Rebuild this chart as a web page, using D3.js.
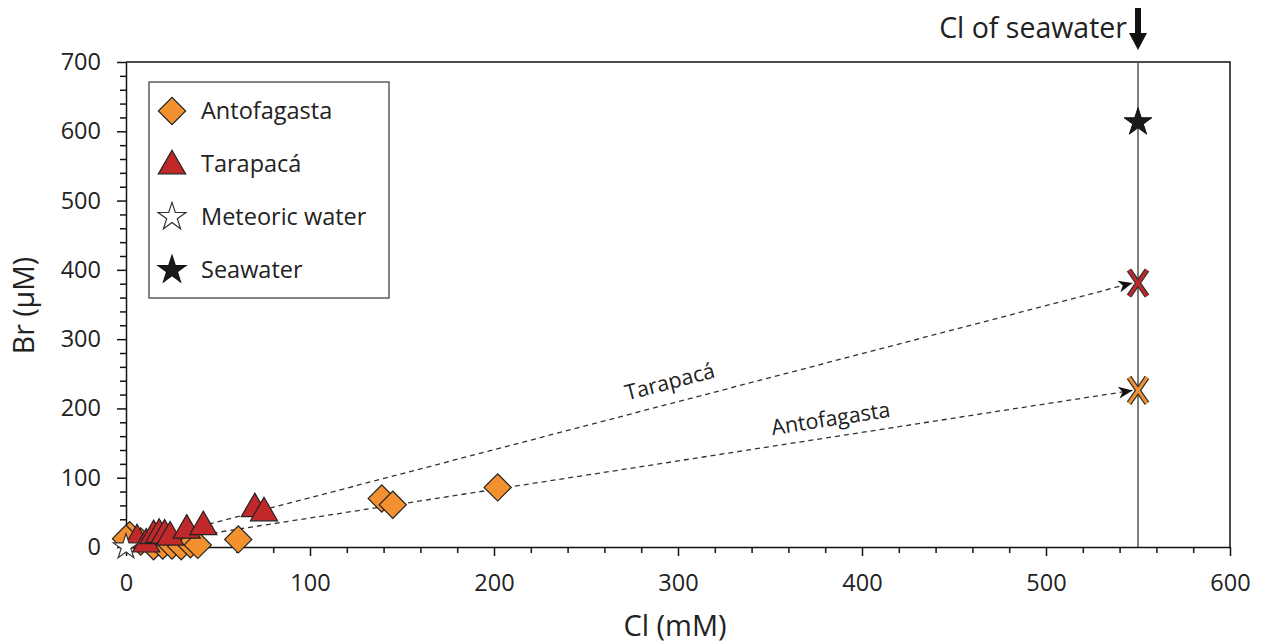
<!DOCTYPE html>
<html>
<head>
<meta charset="utf-8">
<script src="https://cdn.jsdelivr.net/npm/d3@7"></script>
<style>
  body { margin: 0; background: #fff; }
  svg { font-family: "Open Sans", sans-serif; }
</style>
</head>
<body>
<div id="chart"></div>
<script>
// data: [Cl (mM), Br (µM)]
const antofagasta = [
  [2, 17], [0, 12], [8, 8], [15, 1], [20, 2], [25, 2], [30, 1], [35, 4],
  [39, 3], [61, 11], [139, 70], [145, 61], [202, 86]
];
const tarapaca = [
  [6, 13], [11, 7], [15, 19], [18, 21], [21, 20], [24, 17], [33, 27],
  [42, 32], [70, 58], [75, 52]
];
const meteoric = [[0, 0]];
const seawater = [[550, 613]];
const seawaterCl = 550;
// dashed mixing lines ending at the projected seawater-Cl values
const tarapacaLine = [[45, 33], [547, 381]];
const antofagastaLine = [[47, 20], [547, 226]];
const projected = [
  { name: "Tarapacá", br: 381 },
  { name: "Antofagasta", br: 226 }
];
const xTicks = [0, 100, 200, 300, 400, 500, 600];
const yTicks = [0, 100, 200, 300, 400, 500, 600, 700];
const legendItems = ["Antofagasta", "Tarapacá", "Meteoric water", "Seawater"];

const W = 1265, H = 644;
const margin = { top: 62, right: 35, bottom: 97, left: 126 };
const width = W - margin.left - margin.right;
const height = H - margin.top - margin.bottom;

const orange = "#f39130";
const red = "#c0282a";
const edge = "#222";

const svg = d3.select("#chart").append("svg")
  .attr("width", W).attr("height", H);

const g = svg.append("g")
  .attr("transform", `translate(${margin.left},${margin.top})`);

const x = d3.scaleLinear().domain([0, 600]).range([0, width]);
const y = d3.scaleLinear().domain([0, 700]).range([height, 0]);

// minor ticks every 20
const minorX = d3.range(0, 601, 20).filter(d => d % 100 !== 0);
const minorY = d3.range(0, 701, 20).filter(d => d % 100 !== 0);

// frame (top + right)
g.append("path")
  .attr("d", `M0,0H${width}V${height}`)
  .attr("fill", "none").attr("stroke", "#111").attr("stroke-width", 1.5);

// seawater Cl line
g.append("line")
  .attr("x1", x(seawaterCl)).attr("x2", x(seawaterCl))
  .attr("y1", 0).attr("y2", height)
  .attr("stroke", "#555").attr("stroke-width", 1.5);

// axes
g.append("g").attr("transform", `translate(0,${height})`)
  .call(d3.axisBottom(x).tickValues(xTicks).tickSize(9).tickPadding(18).tickSizeOuter(0));
g.append("g").attr("transform", `translate(0,${height})`)
  .call(d3.axisBottom(x).tickValues(minorX).tickSize(6).tickFormat(""))
  .call(a => a.select(".domain").remove());
g.append("g")
  .call(d3.axisLeft(y).tickValues(yTicks).tickSize(9).tickPadding(16).tickSizeOuter(0));
g.append("g")
  .call(d3.axisLeft(y).tickValues(minorY).tickSize(6).tickFormat(""))
  .call(a => a.select(".domain").remove());

g.selectAll(".domain, .tick line").attr("stroke", "#111").attr("stroke-width", 1.5);
g.selectAll(".tick text").attr("font-size", 23.5).attr("fill", "#222")
  .attr("font-family", "'Open Sans', sans-serif");

// axis titles
svg.append("text")
  .attr("x", margin.left + width / 2 - 3).attr("y", 636)
  .attr("text-anchor", "middle").attr("font-size", 29).attr("fill", "#222")
  .text("Cl (mM)");
svg.append("text")
  .attr("transform", `translate(34,${margin.top + y(350) + 1}) rotate(-90)`)
  .attr("text-anchor", "middle").attr("font-size", 28.5).attr("fill", "#222")
  .text("Br (µM)");

// arrowhead marker
svg.append("defs").append("marker")
  .attr("id", "arrow").attr("viewBox", "-14 -7 16 14")
  .attr("markerWidth", 16).attr("markerHeight", 14)
  .attr("refX", 0).attr("refY", 0)
  .attr("markerUnits", "userSpaceOnUse")
  .attr("orient", "auto")
  .append("path").attr("d", "M0,0L-14,-6L-10,0L-14,6Z").attr("fill", "#111");

const line = d3.line().x(d => x(d[0])).y(d => y(d[1]));
[tarapacaLine, antofagastaLine].forEach(l => {
  g.append("path").attr("d", line(l))
    .attr("fill", "none").attr("stroke", "#333").attr("stroke-width", 1.3)
    .attr("stroke-dasharray", "5,4").attr("marker-end", "url(#arrow)");
});

// line labels, rotated along their lines
function lineLabel(l, t, text, off) {
  const x0 = x(l[0][0]), y0 = y(l[0][1]), x1 = x(l[1][0]), y1 = y(l[1][1]);
  const ang = Math.atan2(y1 - y0, x1 - x0) * 180 / Math.PI;
  const px = x0 + (x1 - x0) * t, py = y0 + (y1 - y0) * t;
  g.append("text")
    .attr("transform", `translate(${px},${py}) rotate(${ang}) translate(0,${off})`)
    .attr("text-anchor", "middle").attr("font-size", 21.5).attr("fill", "#222")
    .text(text);
}
lineLabel(tarapacaLine, 0.505, "Tarapacá", -14);
lineLabel(antofagastaLine, 0.675, "Antofagasta", -11);

// symbols
const diamond = d3.symbol().type(d3.symbolSquare).size(370);
const triangle = d3.symbol().type(d3.symbolTriangle).size(320);
const starBig = d3.symbol().type(d3.symbolStar).size(240);
const starSmall = d3.symbol().type(d3.symbolStar).size(200);

g.append("g").selectAll("path").data(antofagasta).join("path")
  .attr("d", diamond)
  .attr("transform", d => `translate(${x(d[0])},${y(d[1])}) rotate(45)`)
  .attr("fill", orange).attr("stroke", edge).attr("stroke-width", 1.2);

g.append("g").selectAll("path").data(tarapaca).join("path")
  .attr("d", triangle)
  .attr("transform", d => `translate(${x(d[0])},${y(d[1]) + 2})`)
  .attr("fill", red).attr("stroke", edge).attr("stroke-width", 1.2);

g.append("g").selectAll("path").data(meteoric).join("path")
  .attr("d", starSmall)
  .attr("transform", d => `translate(${x(d[0])},${y(d[1])})`)
  .attr("fill", "#fff").attr("stroke", "#333").attr("stroke-width", 1.2);

g.append("g").selectAll("path").data(seawater).join("path")
  .attr("d", starBig)
  .attr("transform", d => `translate(${x(d[0])},${y(d[1])})`)
  .attr("fill", "#1a1a1a").attr("stroke", "#111").attr("stroke-width", 1);

// projected values as X marks
const xMark = "M-9,-13L9,13M9,-13L-9,13";
const xg = g.append("g").selectAll("g").data(projected).join("g")
  .attr("transform", d => `translate(${x(seawaterCl)},${y(d.br)})`);
xg.append("path").attr("d", xMark).attr("stroke", "#333").attr("stroke-width", 5.5)
  .attr("fill", "none");
xg.append("path").attr("d", xMark)
  .attr("stroke", d => d.name === "Tarapacá" ? red : orange)
  .attr("stroke-width", 3).attr("fill", "none");

// legend
const lg = svg.append("g").attr("transform", "translate(149,82)");
lg.append("rect").attr("width", 240).attr("height", 216)
  .attr("fill", "#fff").attr("stroke", "#444").attr("stroke-width", 1.3);
const legendShapes = [
  { sym: diamond, rot: 45, fill: orange, stroke: edge },
  { sym: triangle, rot: 0, fill: red, stroke: edge },
  { sym: starBig, rot: 0, fill: "#fff", stroke: "#333" },
  { sym: starBig, rot: 0, fill: "#1a1a1a", stroke: "#111" }
];
const li = lg.selectAll("g.item").data(legendItems).join("g")
  .attr("class", "item")
  .attr("transform", (d, i) => `translate(0,${29 + i * 53})`);
li.append("path")
  .attr("d", (d, i) => legendShapes[i].sym())
  .attr("transform", (d, i) => `translate(23,${i === 1 ? 2 : 0}) rotate(${legendShapes[i].rot})`)
  .attr("fill", (d, i) => legendShapes[i].fill)
  .attr("stroke", (d, i) => legendShapes[i].stroke).attr("stroke-width", 1.2);
li.append("text").attr("x", 52).attr("y", 8)
  .attr("font-size", 23.5).attr("fill", "#222").text(d => d);

// "Cl of seawater" arrow annotation
const ax = margin.left + x(seawaterCl);
svg.append("text")
  .attr("x", ax - 11).attr("y", 38).attr("text-anchor", "end")
  .attr("font-size", 28.5).attr("fill", "#222").text("Cl of seawater");
svg.append("path")
  .attr("d", `M${ax - 3},8H${ax + 3}V33H${ax + 9}L${ax},50L${ax - 9},33H${ax - 3}Z`)
  .attr("fill", "#111");
</script>
</body>
</html>
